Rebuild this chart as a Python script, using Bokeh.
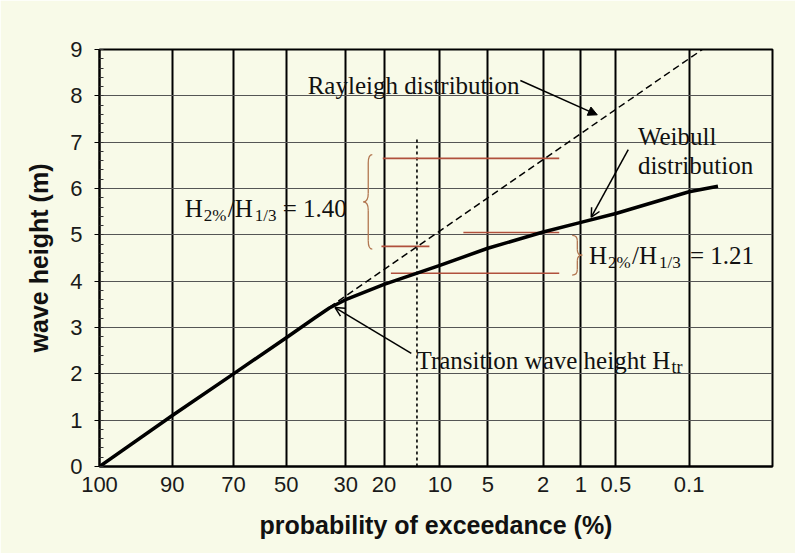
import numpy as np
from bokeh.plotting import figure
from bokeh.models import Range1d, FixedTicker, Label, Arrow, OpenHead, NormalHead
from bokeh.embed import file_html
from bokeh.resources import INLINE

# Composite Weibull wave-height distribution: exceedance probability (%) vs height (m)
weibull_p = [100, 90, 70, 50, 40, 35, 30, 20, 10, 5, 2, 1, 0.5, 0.1, 0.05]
weibull_h = [0.0, 1.10, 2.00, 2.78, 3.20, 3.42, 3.60, 3.93, 4.34, 4.71, 5.06, 5.27, 5.46, 5.93, 6.05]

# Rayleigh distribution: a straight line on Rayleigh probability paper
rayleigh_p = [38, 0.073]
rayleigh_h = [3.30, 9.0]

# Characteristic heights (m): H1/3 and H2% for both distributions
ray_h13, ray_h2 = 4.75, 6.65
wb_h13, wb_h2 = 4.17, 5.05

# Horizontal markers of the characteristic heights (probability extent, height)
marker_p_from = [20.3, 20.6, 7.2, 18.5]
marker_p_to = [1.5, 11.5, 1.5, 1.5]
marker_h = [ray_h2, ray_h13, wb_h2, wb_h13]

# Exceedance probability of H1/3 under Rayleigh, and the reach of its guide line
p_h13 = 13.5
p_h13_top = 7.1

# Transition wave height
h_tr = 3.43
p_tr = 33.2

tick_p = [100, 90, 70, 50, 30, 20, 10, 5, 2, 1, 0.5, 0.1]
tick_labels = ["100", "90", "70", "50", "30", "20", "10", "5", "2", "1", "0.5", "0.1"]
y_ticks = list(range(0, 10))
y_minor = [round(0.2 * i, 1) for i in range(0, 46)]


def ray(p):
    """Rayleigh-paper abscissa: sqrt(-ln(P))."""
    return np.sqrt(-np.log(np.asarray(p, dtype=float) / 100.0))


BG = "#f8fae8"
RED = "#b0503c"
BRACE = "#b27650"
SERIF = "Liberation Serif"
SANS = "Liberation Sans"

p = figure(width=795, height=553, output_backend="svg", toolbar_location=None,
           x_range=Range1d(0, 3.0), y_range=Range1d(0, 9),
           min_border_left=99, min_border_right=23, min_border_top=49, min_border_bottom=87,
           background_fill_color=BG, border_fill_color=BG)

p.outline_line_color = "black"
p.outline_line_width = 2

tick_u = [float(v) for v in ray(tick_p)]
p.xaxis.ticker = FixedTicker(ticks=tick_u)
p.xaxis.major_label_overrides = {u: lab for u, lab in zip(tick_u, tick_labels)}
p.xaxis.major_tick_out = 0
p.xaxis.major_tick_in = 0
p.xaxis.minor_tick_out = 0
p.xaxis.minor_tick_in = 0
p.xaxis.major_label_standoff = 10
p.xaxis.axis_label = "probability of exceedance (%)"
p.xaxis.axis_label_standoff = 16

p.yaxis.ticker = FixedTicker(ticks=y_ticks, minor_ticks=y_minor)
p.yaxis.major_tick_out = 5
p.yaxis.major_tick_in = 0
p.yaxis.minor_tick_in = 4
p.yaxis.minor_tick_out = 0
p.yaxis.minor_tick_line_color = "#333333"
p.yaxis.major_label_standoff = 12
p.yaxis.axis_label = "wave height (m)"
p.yaxis.axis_label_standoff = 14

for ax in (p.xaxis, p.yaxis):
    ax.axis_line_color = "black"
    ax.axis_line_width = 2
    ax.major_tick_line_color = "black"
    ax.major_label_text_font = SANS
    ax.major_label_text_font_size = "22px"
    ax.major_label_text_color = "#1a1a1a"
    ax.axis_label_text_font = SANS
    ax.axis_label_text_font_style = "bold"
    ax.axis_label_text_font_size = "25px"
    ax.axis_label_text_color = "#111111"

p.xgrid.ticker = FixedTicker(ticks=tick_u)
p.xgrid.grid_line_color = "black"
p.xgrid.grid_line_width = 2
p.xgrid.grid_line_alpha = 1.0
p.ygrid.ticker = FixedTicker(ticks=y_ticks)
p.ygrid.grid_line_color = "#555555"
p.ygrid.grid_line_width = 1.1
p.ygrid.grid_line_alpha = 1.0

# guide at the H1/3 exceedance probability
p.segment(x0=[float(ray(p_h13))], y0=[0], x1=[float(ray(p_h13))], y1=[p_h13_top],
          line_color="black", line_width=1.6, line_dash="3 3")

# characteristic-height markers
p.segment(x0=ray(marker_p_from), y0=marker_h, x1=ray(marker_p_to), y1=marker_h,
          line_color=RED, line_width=1.6)

# Rayleigh and Weibull curves
p.line(ray(rayleigh_p), rayleigh_h, line_color="black", line_width=1.5, line_dash="7 4")
p.line(ray(weibull_p), weibull_h, line_color="black", line_width=3.5, line_join="round")


def brace(x_end, x_mid, x_tip, h_lo, h_hi, d):
    hc = 0.5 * (h_lo + h_hi)
    q = dict(x0=[x_end, x_mid, x_tip, x_mid],
             y0=[h_hi, hc + d, hc, h_lo + d],
             x1=[x_mid, x_tip, x_mid, x_end],
             y1=[h_hi - d, hc, hc - d, h_lo],
             cx=[x_mid, x_mid, x_mid, x_mid],
             cy=[h_hi, hc, hc, h_lo])
    s = dict(x0=[x_mid, x_mid], y0=[h_hi - d, hc - d],
             x1=[x_mid, x_mid], y1=[hc + d, h_lo + d])
    p.quadratic(line_color=BRACE, line_width=1.3, **q)
    p.segment(line_color=BRACE, line_width=1.3, **s)


brace(1.216, 1.198, 1.176, ray_h13 - 0.06, ray_h2 + 0.08, 0.18)
brace(2.107, 2.130, 2.152, wb_h13 - 0.04, wb_h2 - 0.06, 0.12)


def runs(x, y, pieces):
    for text, size, dx, dy in pieces:
        p.add_layout(Label(x=x, y=y, x_offset=dx, y_offset=dy, text=text,
                           text_font=SERIF, text_font_size=f"{size}px",
                           text_color="#111111", text_baseline="alphabetic",
                           text_align="left"))


runs(0.928, 8.23, [("Rayleigh distribution", 25, 0, 0)])
runs(2.40, 7.12, [("Weibull", 25, 0, 0)])
runs(2.40, 6.49, [("distribution", 25, 0, 0)])
runs(0.380, 5.56, [("H", 25, 0, 0), ("2%", 17, 19, -7), ("/H", 25, 43, 0),
                   ("1/3", 17, 70, -7), ("= 1.40", 25, 98, 0)])
runs(2.182, 4.55, [("H", 25, 0, 0), ("2%", 17, 19, -7), ("/H", 25, 43, 0),
                   ("1/3", 17, 70, -7), ("= 1.21", 25, 101, 0)])
runs(1.413, 2.28, [("Transition wave height H", 25, 0, 0), ("tr", 18, 255, -6)])

# pointers from the annotations to the curves
p.add_layout(Arrow(end=NormalHead(size=9, fill_color="black", line_color="black"),
                   x_start=1.876, y_start=8.33, x_end=2.219, y_end=7.59,
                   line_color="black", line_width=1.5))
p.add_layout(Arrow(end=OpenHead(size=9, line_color="black", line_width=1.5),
                   x_start=2.357, y_start=6.84, x_end=2.192, y_end=5.38,
                   line_color="black", line_width=1.5))
p.add_layout(Arrow(end=OpenHead(size=9, line_color="black", line_width=1.5),
                   x_start=1.39, y_start=2.44, x_end=float(ray(p_tr)), y_end=h_tr,
                   line_color="black", line_width=1.5))

html = file_html(p, INLINE)
html = html.replace("<head>", "<head><style>html,body{margin:0;padding:0;}</style>", 1)
open("out.html", "w").write(html)
